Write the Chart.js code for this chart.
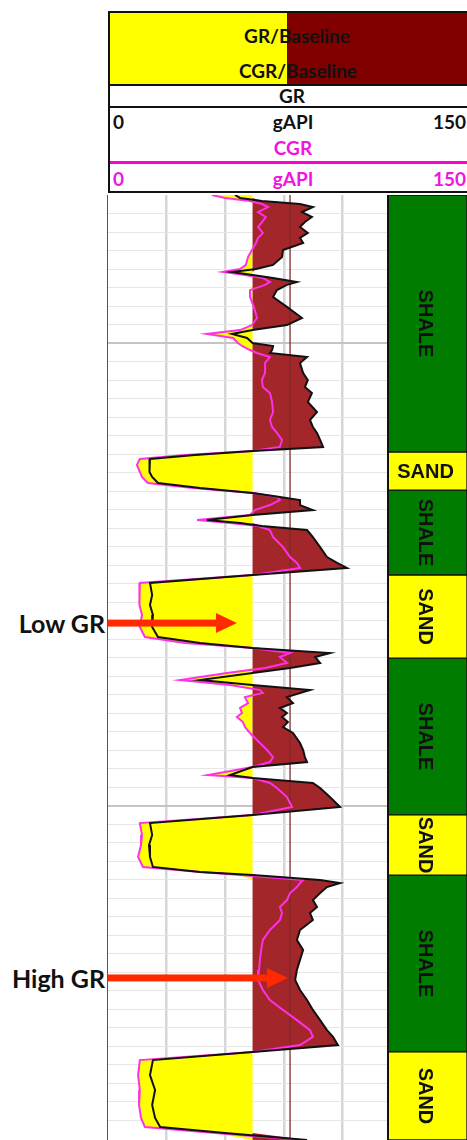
<!DOCTYPE html>
<html>
<head>
<meta charset="utf-8">
<title>GR / CGR log with lithology</title>
<script src="https://cdn.jsdelivr.net/npm/chart.js@4.4.1/dist/chart.umd.min.js"></script>
<style>
  body { margin: 0; width: 467px; height: 1140px; overflow: hidden; background: #fff;
         font-family: Lato, "Open Sans", sans-serif; font-weight: bold; }
  .abs { position: absolute; }
  .txt { position: absolute; font-size: 19px; line-height: 20px; color: #111; white-space: nowrap; }
  .c { text-align: center; width: 200px; }
  .mag { color: #f014dc; }
  #track-box { left: 108px; top: 195px; width: 293px; height: 945px; }
  #lith-box { left: 388px; top: 195px; width: 79px; height: 945px; z-index: 2; }
  .side { position: absolute; font-size: 25px; line-height: 30px; color: #111; width: 105px; left: 0; text-align: right; }
</style>
</head>
<body>

<!-- header -->
<div class="abs" style="left:108px;top:11px;width:179px;height:74px;background:#ffff00"></div>
<div class="abs" style="left:287px;top:11px;width:183px;height:74px;background:#800000"></div>
<div class="abs" style="left:108px;top:84px;width:362px;height:2px;background:#111"></div>
<div class="abs" style="left:108px;top:106px;width:362px;height:2px;background:#111"></div>
<div class="abs" style="left:108px;top:161px;width:362px;height:3px;background:#ff00d0"></div>
<div class="abs" style="left:108px;top:11px;width:362px;height:182px;border:2px solid #111;box-sizing:border-box;z-index:3"></div>

<div class="txt c" style="left:197px;top:26px">GR/Baseline</div>
<div class="txt c" style="left:198px;top:61px">CGR/Baseline</div>
<div class="txt c" style="left:192px;top:86px">GR</div>
<div class="txt" style="left:113px;top:112px">0</div>
<div class="txt c" style="left:193px;top:112px">gAPI</div>
<div class="txt" style="left:366px;top:112px;width:100px;text-align:right">150</div>
<div class="txt c mag" style="left:193px;top:138px">CGR</div>
<div class="txt mag" style="left:113px;top:169px">0</div>
<div class="txt c mag" style="left:193px;top:169px">gAPI</div>
<div class="txt mag" style="left:366px;top:169px;width:100px;text-align:right">150</div>

<!-- tracks -->
<div class="abs" id="track-box"><canvas id="track"></canvas></div>
<div class="abs" id="lith-box"><canvas id="lith"></canvas></div>
<div class="abs" style="left:107px;top:195px;width:1px;height:945px;background:#555;z-index:3"></div>
<div class="abs" style="left:387px;top:195px;width:2px;height:945px;background:#111;z-index:3"></div>

<div class="side" id="label-0"></div>
<div class="side" id="label-1"></div>

<script>
// depth (ft), gamma ray and computed gamma ray (gAPI)
const DEPTH = [
  1200.0, 1201.6, 1203.2, 1204.9, 1206.5, 1209.2, 1211.9, 1214.6, 1217.3, 1220.5,
  1223.2, 1225.9, 1229.7, 1233.5, 1237.8, 1240.0, 1241.6, 1243.2, 1244.9, 1247.0,
  1248.6, 1251.4, 1255.1, 1260.5, 1266.5, 1270.3, 1273.0, 1275.1, 1277.3, 1280.0,
  1281.6, 1283.8, 1285.4, 1287.6, 1290.8, 1296.2, 1300.0, 1303.8, 1307.0, 1311.9,
  1317.3, 1321.6, 1325.4, 1328.6, 1332.4, 1336.2, 1338.4, 1340.5, 1342.7, 1345.9,
  1349.7, 1352.4, 1355.7, 1358.4, 1361.1, 1363.2, 1364.9, 1367.6, 1370.3, 1373.0,
  1375.7, 1377.3, 1378.9, 1381.1, 1384.9, 1390.3, 1395.7, 1398.9, 1401.6, 1405.4,
  1409.7, 1416.2, 1421.6, 1427.0, 1433.5, 1438.9, 1442.2, 1444.9, 1447.6, 1449.7,
  1453.0, 1455.7, 1458.4, 1462.2, 1464.9, 1467.6, 1469.2, 1471.4, 1474.6, 1477.3,
  1480.0, 1482.2, 1484.9, 1487.6, 1490.8, 1496.2, 1500.0, 1503.8, 1506.5, 1509.2,
  1513.5, 1515.1, 1517.8, 1520.5, 1525.4, 1530.8, 1535.1, 1539.5, 1545.9, 1551.4,
  1557.8, 1563.2, 1566.0, 1567.6, 1570.3, 1571.9, 1574.1, 1577.3, 1581.1, 1584.9,
  1588.1, 1591.9, 1597.3, 1602.7, 1608.1, 1613.5, 1618.9, 1624.3, 1629.7, 1635.1,
  1640.5, 1646.0, 1651.4, 1655.1, 1659.5, 1663.2, 1667.6, 1675.7, 1683.8, 1691.9,
  1698.9, 1703.8, 1707.0, 1710.8
];
const GR = [
  65.0, 67.6, 78.8, 98.3, 104.9, 99.3, 104.4, 100.8, 98.3, 102.3,
  98.3, 99.9, 89.6, 89.1, 84.5, 75.8, 63.5, 74.0, 84.5, 96.7,
  91.6, 86.5, 84.5, 91.6, 99.3, 91.6, 74.0, 63.5, 71.2, 74.0,
  84.5, 84.0, 82.9, 101.9, 98.3, 99.9, 102.3, 100.8, 104.4, 102.3,
  107.0, 103.4, 104.9, 107.0, 108.6, 110.1, 74.0, 44.5, 21.5, 21.0,
  21.5, 22.6, 25.6, 47.1, 74.0, 88.0, 98.3, 98.3, 104.9, 74.0,
  50.6, 67.6, 78.8, 101.9, 104.9, 108.6, 112.1, 117.3, 122.3, 74.0,
  21.5, 22.6, 21.5, 23.0, 22.6, 25.6, 47.1, 74.0, 113.6, 106.0,
  108.6, 93.2, 74.0, 47.1, 74.0, 103.4, 98.3, 91.6, 94.7, 88.0,
  91.6, 89.1, 92.1, 89.6, 94.7, 98.3, 99.9, 100.8, 101.9, 74.0,
  62.5, 74.0, 104.9, 108.6, 113.6, 118.8, 74.0, 21.5, 22.6, 21.0,
  21.5, 23.0, 47.1, 74.0, 108.6, 118.8, 112.1, 108.6, 104.9, 107.0,
  103.4, 104.9, 98.3, 96.7, 99.9, 98.3, 96.7, 95.8, 98.3, 101.9,
  104.9, 108.6, 112.1, 115.2, 117.7, 74.0, 23.0, 21.5, 24.1, 22.6,
  24.1, 26.7, 59.9, 101.9
];
const CGR = [
  53.2, 59.9, 72.7, 78.8, 81.9, 76.8, 80.8, 78.8, 76.8, 79.3,
  76.8, 75.8, 73.7, 71.7, 70.6, 67.6, 58.9, 70.1, 79.3, 82.9,
  80.4, 72.7, 72.7, 74.7, 76.3, 73.7, 67.6, 50.6, 64.0, 66.5,
  68.6, 72.7, 76.3, 82.9, 80.4, 80.4, 78.8, 79.3, 82.9, 84.0,
  84.5, 82.9, 84.0, 86.5, 89.1, 88.0, 74.0, 39.4, 16.3, 14.8,
  16.3, 17.4, 20.4, 43.5, 74.0, 86.5, 88.0, 82.9, 75.2, 72.7,
  45.6, 62.5, 76.8, 82.9, 84.5, 89.6, 93.2, 96.7, 98.3, 74.0,
  16.3, 16.3, 15.9, 17.4, 16.3, 18.9, 39.4, 74.0, 93.2, 88.0,
  91.6, 80.4, 60.9, 36.9, 62.5, 77.8, 79.3, 70.1, 71.7, 67.6,
  68.6, 66.0, 69.1, 70.1, 72.7, 77.8, 81.4, 84.5, 82.9, 74.0,
  51.2, 74.0, 82.9, 86.5, 91.6, 94.2, 74.0, 16.3, 17.4, 16.9,
  15.4, 17.9, 47.1, 67.6, 99.9, 98.3, 96.7, 93.2, 91.6, 88.0,
  89.1, 88.0, 82.9, 79.3, 78.4, 77.8, 77.3, 76.8, 79.3, 82.9,
  89.6, 96.7, 103.4, 104.9, 98.3, 74.0, 16.3, 15.4, 16.3, 15.9,
  16.9, 18.9, 54.8, 98.3
];

const BASELINE = 74;        // gAPI, shale/sand baseline
const CUTOFF = 93.2;        // gAPI, thin reference line
const SCALE_MIN = 0;
const SCALE_MAX = 150;
const DEPTH_TOP = 1200;
const DEPTH_BOTTOM = 1710.8;
const MAJOR_DEPTHS = [1280, 1530];

// lithology column
const ZONE_NAMES = ['SHALE', 'SAND', 'SHALE', 'SAND', 'SHALE', 'SAND', 'SHALE', 'SAND'];
const ZONE_TOP = [1200.0, 1338.9, 1359.5, 1405.4, 1450.3, 1535.1, 1567.6, 1663.2];
const ZONE_BASE = [1338.9, 1359.5, 1405.4, 1450.3, 1535.1, 1567.6, 1663.2, 1710.8];

// annotation arrows
const ARROW_LABELS = ['Low GR', 'High GR'];
const ARROW_DEPTH = [1431.4, 1623.2];
const ARROW_TIP = [66.0, 92.1];

const colors = {
  sand: '#ffff00',
  shale: '#007d00',
  highFill: '#a3262a',
  gr: '#111111',
  cgr: '#ff30e8',
  cutoff: 'rgba(125, 40, 40, 0.85)',
  arrow: '#ff2a00'
};

const points = (values) => DEPTH.map((d, i) => ({ x: values[i], y: d }));

// Arrows drawn through the track scales.
const arrowPlugin = {
  id: 'arrows',
  afterDatasetsDraw(chart) {
    const { ctx, scales } = chart;
    ctx.save();
    ctx.fillStyle = colors.arrow;
    ARROW_DEPTH.forEach((depth, i) => {
      const y = scales.y.getPixelForValue(depth);
      const x0 = scales.x.getPixelForValue(SCALE_MIN);
      const x1 = scales.x.getPixelForValue(ARROW_TIP[i]);
      ctx.fillRect(x0, y - 3.5, x1 - x0 - 18, 7);
      ctx.beginPath();
      ctx.moveTo(x1 - 21, y - 10);
      ctx.lineTo(x1, y);
      ctx.lineTo(x1 - 21, y + 10);
      ctx.closePath();
      ctx.fill();

      // Label to the left of the track.
      const label = document.getElementById('label-' + i);
      label.textContent = ARROW_LABELS[i];
      label.style.top = (195 + y - 15) + 'px';
    });
    ctx.restore();
  }
};

new Chart(document.getElementById('track'), {
  type: 'line',
  data: {
    datasets: [
      {
        label: 'GR',
        data: points(GR),
        borderColor: colors.gr,
        borderWidth: 2,
        fill: false,
        order: 0
      },
      {
        label: 'CGR',
        data: points(CGR),
        borderColor: colors.cgr,
        borderWidth: 2,
        fill: false,
        order: 1
      },
      {
        label: 'Cutoff',
        data: [{ x: CUTOFF, y: DEPTH_TOP }, { x: CUTOFF, y: DEPTH_BOTTOM }],
        borderColor: colors.cutoff,
        borderWidth: 1.5,
        fill: false,
        order: 2
      },
      {
        label: 'GR/Baseline',
        data: points(GR.map(v => Math.max(v, BASELINE))),
        borderWidth: 0,
        backgroundColor: colors.highFill,
        fill: { value: BASELINE },
        order: 3
      },
      {
        label: 'CGR/Baseline',
        data: points(CGR.map(v => Math.min(v, BASELINE))),
        borderWidth: 0,
        backgroundColor: colors.sand,
        fill: { value: BASELINE },
        order: 4
      }
    ]
  },
  options: {
    indexAxis: 'y',
    animation: false,
    responsive: true,
    maintainAspectRatio: false,
    events: [],
    layout: { padding: 0 },
    elements: { point: { radius: 0 }, line: { tension: 0 } },
    plugins: {
      legend: { display: false },
      tooltip: { enabled: false }
    },
    scales: {
      x: {
        type: 'linear',
        position: 'top',
        min: SCALE_MIN,
        max: SCALE_MAX,
        ticks: { display: false, stepSize: 30 },
        border: { display: false },
        grid: {
          drawTicks: false,
          lineWidth: 2.5,
          color: (c) => (c.tick.value > SCALE_MIN && c.tick.value < SCALE_MAX) ? '#d6d6d6' : 'rgba(0,0,0,0)'
        }
      },
      y: {
        type: 'linear',
        min: DEPTH_TOP,
        max: DEPTH_BOTTOM,
        reverse: true,
        ticks: { display: false, stepSize: 10 },
        border: { display: false },
        grid: {
          drawTicks: false,
          lineWidth: (c) => MAJOR_DEPTHS.includes(c.tick.value) ? 2 : 1,
          color: (c) => {
            const v = c.tick.value;
            if (MAJOR_DEPTHS.includes(v)) return '#c4c4c4';
            if (v === DEPTH_TOP || v % 10 !== 0) return 'rgba(0,0,0,0)';
            return '#e6e6e6';
          }
        }
      }
    }
  },
  plugins: [arrowPlugin]
});

// Zone names written on the lithology bars; short zones keep the text flat.
const zoneLabelPlugin = {
  id: 'zoneLabels',
  afterDatasetsDraw(chart) {
    const { ctx } = chart;
    ctx.save();
    ctx.fillStyle = '#111';
    ctx.font = 'bold 20px "Liberation Sans", Arial, sans-serif';
    ctx.textAlign = 'center';
    ctx.textBaseline = 'middle';
    chart.data.datasets.forEach((ds, i) => {
      const bar = chart.getDatasetMeta(i).data[0];
      const cy = (bar.y + bar.base) / 2;
      const h = Math.abs(bar.base - bar.y);
      ctx.save();
      ctx.translate(bar.x - 2, cy);
      if (h > 45) ctx.rotate(Math.PI / 2);
      ctx.fillText(ds.label, 0, 1);
      ctx.restore();
    });
    ctx.restore();
  }
};

new Chart(document.getElementById('lith'), {
  type: 'bar',
  data: {
    labels: ['Lithology'],
    datasets: ZONE_NAMES.map((name, i) => ({
      label: name,
      data: [[ZONE_TOP[i], ZONE_BASE[i]]],
      backgroundColor: name === 'SAND' ? colors.sand : colors.shale,
      borderColor: '#111',
      borderWidth: 1,
      borderSkipped: false,
      grouped: false,
      barPercentage: 1,
      categoryPercentage: 1
    }))
  },
  options: {
    animation: false,
    responsive: true,
    maintainAspectRatio: false,
    events: [],
    layout: { padding: 0 },
    plugins: {
      legend: { display: false },
      tooltip: { enabled: false }
    },
    scales: {
      x: { display: false },
      y: { display: false, type: 'linear', min: DEPTH_TOP, max: DEPTH_BOTTOM, reverse: true }
    }
  },
  plugins: [zoneLabelPlugin]
});
</script>
</body>
</html>
